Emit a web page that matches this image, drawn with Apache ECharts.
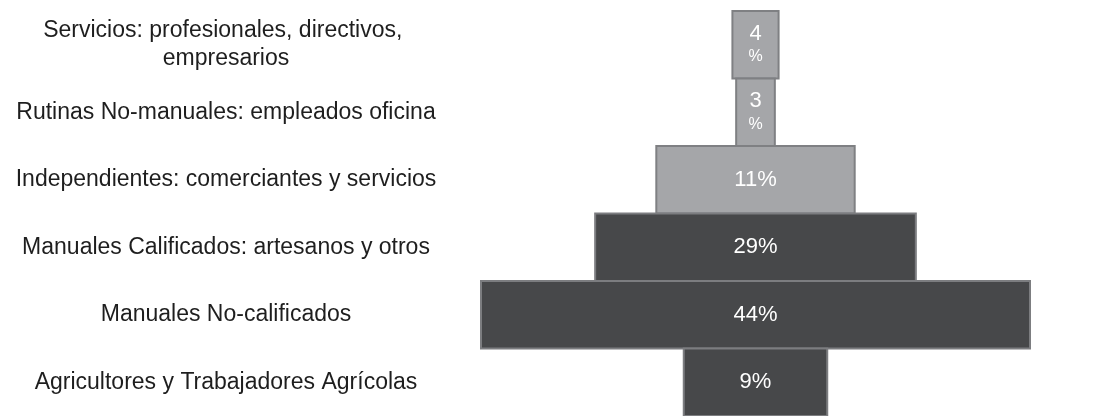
<!DOCTYPE html>
<html>
<head>
<meta charset="utf-8">
<script src="https://cdn.jsdelivr.net/npm/echarts@6/dist/echarts.min.js"></script>
<style>
  html, body { margin: 0; padding: 0; background: #ffffff; }
  #chart { width: 1104px; height: 416px; }
</style>
</head>
<body>
<div id="chart"></div>
<script>
// Occupational categories (top to bottom)
const categories = [
  'Servicios: profesionales, directivos, empresarios',
  'Rutinas No-manuales: empleados oficina',
  'Independientes: comerciantes y servicios',
  'Manuales Calificados: artesanos y otros',
  'Manuales No-calificados',
  'Agricultores y Trabajadores Agrícolas'
];
// Share shown in each block (%)
const shares = [4, 3, 11, 29, 44, 9];
// Block widths as drawn in the source (same units as the 44% block; source is not strictly proportional)
const drawnWidths = [3.7, 3.1, 15.9, 25.7, 44, 11.5];
// Tier of each category
const tiers = ['no-manual', 'no-manual', 'no-manual', 'manual', 'manual', 'manual'];

const tierStyle = {
  'no-manual': { fill: '#a5a6a9', stroke: '#7f8083' },
  'manual':    { fill: '#47484a', stroke: '#7c7d80' }
};

const seriesData = categories.map((c, i) => [drawnWidths[i], i, shares[i], tiers[i]]);

const chart = echarts.init(document.getElementById('chart'), null, { renderer: 'canvas' });

chart.setOption({
  animation: false,
  backgroundColor: '#ffffff',
  grid: { left: 481, width: 549, top: 11, height: 409, containLabel: false },
  xAxis: {
    type: 'value', min: -22, max: 22, show: false
  },
  yAxis: {
    type: 'category',
    data: categories,
    inverse: true,
    axisLine: { show: false },
    axisTick: { show: false },
    splitLine: { show: false },
    axisLabel: {
      margin: 255,
      align: 'center',
      width: 440,
      overflow: 'break',
      color: '#1e1e1e',
      fontFamily: 'Liberation Sans, Arial, sans-serif',
      fontSize: 23,
      lineHeight: 28,
      padding: [3, 0, 0, 0]
    }
  },
  series: [{
    type: 'custom',
    encode: { x: 0, y: 1 },
    data: seriesData,
    renderItem: function (params, api) {
      const w = api.value(0);
      const idx = api.value(1);
      const share = seriesData[params.dataIndex][2];
      const tier = seriesData[params.dataIndex][3];
      const p0 = api.coord([-w / 2, idx]);
      const p1 = api.coord([w / 2, idx]);
      const h = api.size([0, 1])[1];
      const width = p1[0] - p0[0];
      const narrow = width < 80;
      const text = narrow ? '{n|' + share + '}\n{p|%}' : share + '%';
      return {
        type: 'rect',
        shape: { x: p0[0], y: p0[1] - h / 2, width: width, height: h },
        style: { fill: tierStyle[tier].fill, stroke: tierStyle[tier].stroke, lineWidth: 2 },
        textContent: {
          style: {
            text: text,
            fill: '#ffffff',
            fontFamily: 'Liberation Sans, Arial, sans-serif',
            fontSize: 22,
            align: 'center',
            verticalAlign: 'middle',
            rich: {
              n: { fontSize: 22, lineHeight: 24, fill: '#ffffff', fontFamily: 'Liberation Sans, Arial, sans-serif' },
              p: { fontSize: 16, lineHeight: 22, fill: '#ffffff', fontFamily: 'Liberation Sans, Arial, sans-serif' }
            }
          }
        },
        textConfig: { position: 'inside' }
      };
    }
  }]
});
</script>
</body>
</html>
